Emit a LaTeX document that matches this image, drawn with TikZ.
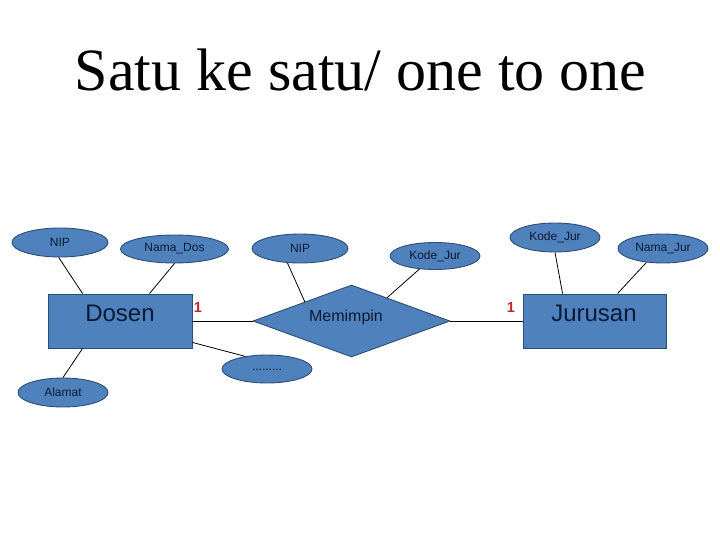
\documentclass[tikz,border=0pt]{standalone}
\usepackage{fontspec}
\setmainfont{Liberation Serif}
\newfontfamily\arialf{Liberation Sans}
\usetikzlibrary{shapes.geometric,calc}
\definecolor{erfill}{HTML}{4F81BD}
\definecolor{erline}{HTML}{2C4D75}
\definecolor{ertext}{HTML}{0D1A33}
\definecolor{cardred}{HTML}{C0262B}
\tikzset{
  attr/.style={ellipse, draw=erline, fill=erfill, line width=0.9pt, inner sep=0pt,
    text=ertext, font=\arialf\fontsize{12}{14}\selectfont},
  entity/.style={rectangle, draw=erline, fill=erfill, line width=0.9pt, inner sep=0pt},
  rel/.style={diamond, draw=erline, fill=erfill, line width=0.9pt, inner sep=0pt},
  bigtxt/.style={text=ertext, font=\arialf\fontsize{24}{28}\selectfont, inner sep=0pt},
  midtxt/.style={text=ertext, font=\arialf\fontsize{16}{19}\selectfont, inner sep=0pt},
  card/.style={text=cardred, font=\arialf\bfseries\fontsize{14.5}{17}\selectfont, inner sep=0pt},
  conn/.style={draw=black, line width=0.8pt}
}
\begin{document}
\begin{tikzpicture}[x=1pt,y=-1pt]
\useasboundingbox (0,0) rectangle (720,540);
\fill[white] (0,0) rectangle (720,540);

\node[anchor=base, inner sep=0pt, font=\fontsize{60}{72}\selectfont] (title) at (360.5,91) {Satu ke satu/ one to one};

% entities and relationship
\node[entity, minimum width=144pt, minimum height=54pt] (dosen) at (120,321) {};
\node[entity, minimum width=143pt, minimum height=54pt] (jurusan) at (594.5,321) {};
\node[rel, minimum width=197pt, minimum height=72pt] (memimpin) at (351.5,321) {};
\node[bigtxt] (dosenlbl) at (120,313) {Dosen};
\node[bigtxt] (jurusanlbl) at (594,313) {Jurusan};
\node[midtxt] (memimpinlbl) at (346,317) {Memimpin};

% attributes
\node[attr, minimum width=96pt, minimum height=29pt] (nip1) at (60,242.5) {NIP};
\node[attr, minimum width=108pt, minimum height=28pt] (namados) at (174.5,249) {Nama\_Dos};
\node[attr, minimum width=90pt, minimum height=29pt] (alamat) at (63,392.5) {Alamat};
\node[attr, minimum width=96pt, minimum height=29pt] (nip2) at (300,248.5) {NIP};
\node[attr, minimum width=90pt, minimum height=27pt] (kj1) at (435,256) {Kode\_Jur};
\node[attr, minimum width=90pt, minimum height=29pt] (kj2) at (555,237.5) {Kode\_Jur};
\node[attr, minimum width=90pt, minimum height=29pt] (nj) at (663,248.5) {Nama\_Jur};
\node[attr, minimum width=90pt, minimum height=28pt] (dots) at (267,369) {};
\node[text=ertext, font=\arialf\fontsize{12}{14}\selectfont, inner sep=0pt] (dotslbl) at (267,370) {.........};

% connectors
\draw[conn] (nip1.-95) -- ($(dosen.north west)+(35,0)$);
\draw[conn] (namados.south) -- ($(dosen.north west)+(102,0)$);
\draw[conn] ($(dosen.south west)+(35,0)$) -- (alamat.north);
\draw[conn] ($(dosen.south east)+(0,-6)$) -- (dots.150);
\draw[conn] (dosen.east) -- (memimpin.west);
\draw[conn] (memimpin.east) -- (jurusan.west);
\draw[conn] (nip2.-131) -- ($(memimpin.west)!0.528!(memimpin.north)$);
\draw[conn] (kj1.-140) -- ($(memimpin.north)!0.36!(memimpin.east)$);
\draw[conn] (kj2.south) -- ($(jurusan.north west)+(40,0)$);
\draw[conn] (nj.-140) -- ($(jurusan.north west)+(95,0)$);

% cardinalities
\node[card] (c1) at (198,308) {1};
\node[card] (c2) at (511,308) {1};
\end{tikzpicture}
\end{document}
